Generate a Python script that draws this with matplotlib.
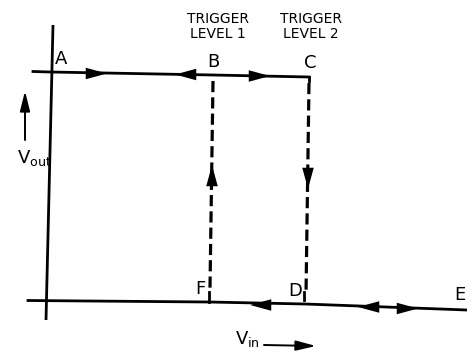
import matplotlib
matplotlib.use("Agg")
import matplotlib.pyplot as plt

# points of the hysteresis loop (drawing units, y grows downward)
labels = ["A", "B", "C", "D", "E", "F"]
pts_x = [50, 213, 309, 305, 467, 209]
pts_y = [72, 75, 77, 304, 310, 302]
label_dx = [11, 0, 1, -10, -7, -9]
label_dy = [-8, -8, -9, -8, -10, -8]

trigger_labels = ["TRIGGER\nLEVEL 1", "TRIGGER\nLEVEL 2"]
trigger_x = [218, 311]

# arrow heads along the paths: (x, y, direction)
top_arrows = [(107, 73.5, 1), (175, 74.5, -1), (270, 76, 1)]
bottom_arrows = [(250, 305, -1), (358, 307, -1), (418, 308.5, 1)]

fig = plt.figure(figsize=(4.67, 3.53), dpi=100)
ax = fig.add_axes([0, 0, 1, 1])
ax.set_xlim(0, 467)
ax.set_ylim(353, 0)
ax.axis("off")

lw = 2.0
# y axis
ax.plot([53, 46], [25, 320], color="black", lw=lw, solid_capstyle="butt")
# top line A -> C
ax.plot([33, pts_x[0], pts_x[1], pts_x[2]], [71.5, pts_y[0], pts_y[1], pts_y[2]],
        color="black", lw=lw)
ax.plot([pts_x[2], pts_x[2]], [pts_y[2], pts_y[2] + 4], color="black", lw=lw)
# bottom line F..E
ax.plot([28, pts_x[5], pts_x[3], pts_x[4]], [300.5, pts_y[5], pts_y[3], pts_y[4]],
        color="black", lw=lw)

# dashed verticals
ax.plot([pts_x[1], pts_x[5] + 1], [pts_y[1] + 6, pts_y[5] - 14], color="black",
        lw=2.3, dashes=(3.5, 1.6))
ax.plot([pts_x[2], pts_x[3] + 1], [pts_y[2] + 6, pts_y[3] - 10], color="black",
        lw=2.3, dashes=(3.5, 1.6))
# little ticks at F and D
ax.plot([pts_x[5], pts_x[5]], [pts_y[5] - 10, pts_y[5]], color="black", lw=lw)
ax.plot([pts_x[3] - 1, pts_x[3] - 1], [pts_y[3] - 12, pts_y[3] - 4], color="black", lw=lw)


def head(x, y, dx, dy):
    ax.annotate("", xy=(x, y), xytext=(x - dx, y - dy),
                arrowprops=dict(arrowstyle="-|>,head_length=0.85,head_width=0.23",
                                mutation_scale=18, color="black", lw=0,
                                shrinkA=0, shrinkB=0))


for x, y, d in top_arrows + bottom_arrows:
    head(x, y, 10 * d, 0)
head(pts_x[1] - 1, 165, 0, -10)
head(pts_x[2] - 1, 189, 0, 10)

for name, x, y, dx, dy in zip(labels, pts_x, pts_y, label_dx, label_dy):
    ax.text(x + dx, y + dy, name, fontsize=13, ha="center", va="baseline")

for txt, x in zip(trigger_labels, trigger_x):
    ax.text(x, 12, txt, fontsize=10, ha="center", va="top", linespacing=1.1)

# V_out label with arrow
ax.text(17, 163, r"V$_{\mathregular{out}}$", fontsize=13, ha="left", va="baseline")
ax.annotate("", xy=(25, 91), xytext=(25, 140),
            arrowprops=dict(arrowstyle="-|>,head_length=0.8,head_width=0.2",
                            mutation_scale=15, color="black", lw=1.4,
                            shrinkA=0, shrinkB=0))
# V_in label with arrow
ax.text(235, 344, r"V$_{\mathregular{in}}$", fontsize=13, ha="left", va="baseline")
ax.annotate("", xy=(316, 346), xytext=(264, 345),
            arrowprops=dict(arrowstyle="-|>,head_length=0.8,head_width=0.2",
                            mutation_scale=15, color="black", lw=1.4,
                            shrinkA=0, shrinkB=0))

fig.savefig("out.png", dpi=100)
